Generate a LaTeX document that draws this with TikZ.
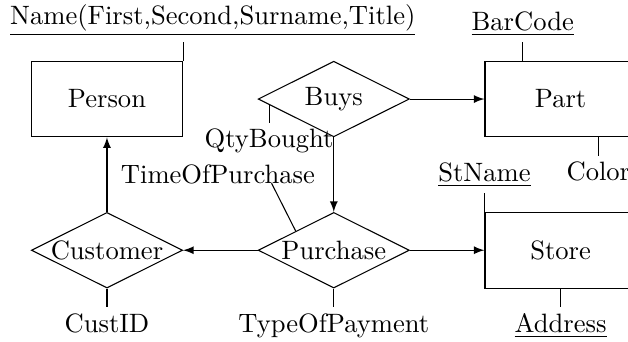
\documentclass[tikz,border=0pt]{standalone}
\usetikzlibrary{shapes.geometric,calc}
\begin{document}
\begin{tikzpicture}[
  entity/.style={draw, rectangle, minimum width=2cm, minimum height=1cm, inner sep=0pt},
  rel/.style={draw, diamond, aspect=2, minimum width=2cm, minimum height=1cm, inner sep=0pt},
  attr/.style={inner sep=2pt},
  arr/.style={-latex}
]
\useasboundingbox (-1.415,-3.201) rectangle (6.892,1.310);
\clip (-1.415,-3.201) rectangle (6.892,1.310);
% entities and relationships
\node[entity] (Person) at (0,0) {Person};
\node[rel] (Buys) at (3,0) {Buys};
\node[entity] (Part) at (6,0) {Part};
\node[rel] (Customer) at (0,-2) {Customer};
\node[rel] (Purchase) at (3,-2) {Purchase};
\node[entity] (Store) at (6,-2) {Store};
% connectors
\draw[arr] (Buys.east) -- (Part.west);
\draw[arr] (Buys.south) -- (Purchase.north);
\draw[arr] (Purchase.west) -- (Customer.east);
\draw[arr] (Purchase.east) -- (Store.west);
\draw[arr] (Customer.north) -- (Person.south);
% attributes
\node[attr, anchor=south] (name) at (1.40,0.75) {\underline{Name(First,Second,Surname,Title)}};
\draw (Person.north east) -- (Person.north east |- name.south);
\coordinate (bc) at ($(Part.north)+(-0.5,0)$);
\node[attr, anchor=south] (barcode) at ($(bc)+(0,0.25)$) {\underline{BarCode}};
\draw (bc) -- (barcode.south);
\coordinate (co) at ($(Part.south)+(0.5,0)$);
\node[attr, anchor=north] (color) at ($(co)+(0,-0.25)$) {Color};
\draw (co) -- (color.north);
\coordinate (qb) at ($(Buys.west)!0.15!(Buys.south)$);
\node[attr, anchor=north] (qty) at ($(qb)+(0,-0.235)$) {QtyBought};
\draw (qb) -- (qty.north);
\coordinate (tp) at (2.177,-1.114);
\node[anchor=base, inner sep=0pt] (time) at (1.468,-1.115) {TimeOfPurchase};
\draw (Purchase.north west) -- (tp);
\node[attr, anchor=south] (stname) at ($(Store.north west)+(0,0.25)$) {\underline{StName}};
\draw (Store.north west) -- (stname.south);
\node[attr, anchor=north] (address) at ($(Store.south)+(0,-0.25)$) {\underline{Address}};
\draw (Store.south) -- (address.north);
\node[attr, anchor=north] (custid) at ($(Customer.south)+(0,-0.25)$) {CustID};
\draw (Customer.south) -- (custid.north);
\node[attr, anchor=north] (payment) at ($(Purchase.south)+(0,-0.25)$) {TypeOfPayment};
\draw (Purchase.south) -- (payment.north);
\end{tikzpicture}
\end{document}
